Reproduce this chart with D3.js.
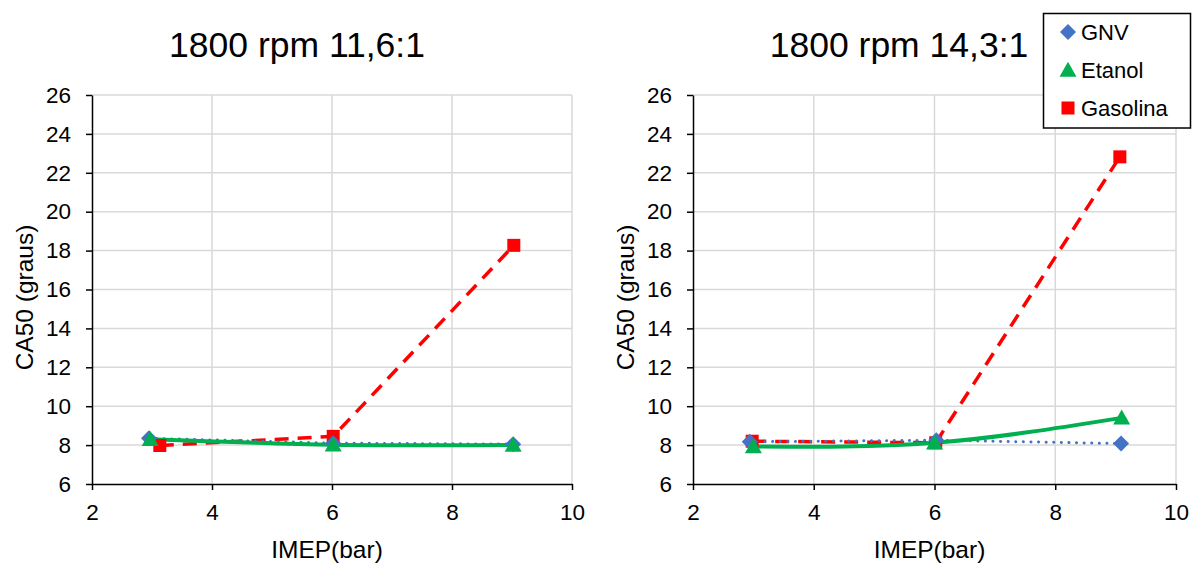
<!DOCTYPE html>
<html>
<head>
<meta charset="utf-8">
<script src="https://cdn.jsdelivr.net/npm/d3@7"></script>
<style>
  html, body { margin: 0; padding: 0; background: #fff; }
  svg { display: block; font-family: "Liberation Sans", Arial, sans-serif; }
</style>
</head>
<body>
<svg id="chart" width="1192" height="563"></svg>
<script>
// CA50 vs IMEP at 1800 rpm, two compression ratios
const panelTitles = ["1800 rpm 11,6:1", "1800 rpm 14,3:1"];
const seriesNames = ["GNV", "Etanol", "Gasolina"];
const xTicks = [2, 4, 6, 8, 10];
const yTicks = [6, 8, 10, 12, 14, 16, 18, 20, 22, 24, 26];

// Compression ratio 11,6:1
const imepGNV116 = [2.95, 6.02, 9.02];
const ca50GNV116 = [8.35, 8.1, 8.05];
const imepEtanol116 = [2.97, 6.02, 9.02];
const ca50Etanol116 = [8.3, 8.02, 8.0];
const imepGasolina116 = [3.13, 6.02, 9.03];
const ca50Gasolina116 = [7.98, 8.45, 18.27];

// Compression ratio 14,3:1
const imepGNV143 = [2.94, 6.03, 9.09];
const ca50GNV143 = [8.17, 8.25, 8.08];
const imepEtanol143 = [3.0, 6.0, 9.1];
const ca50Etanol143 = [7.93, 8.12, 9.4];
const imepGasolina143 = [2.98, 6.02, 9.07];
const ca50Gasolina143 = [8.2, 8.12, 22.82];

const colors = { GNV: "#4472C4", Etanol: "#00B050", Gasolina: "#FF0000" };

const panels = [
  {
    title: panelTitles[0], x0: 92, x1: 572, titleX: 297, yLabelX: 25,
    series: {
      GNV: d3.zip(imepGNV116, ca50GNV116),
      Etanol: d3.zip(imepEtanol116, ca50Etanol116),
      Gasolina: d3.zip(imepGasolina116, ca50Gasolina116)
    }
  },
  {
    title: panelTitles[1], x0: 693, x1: 1176, titleX: 899, yLabelX: 626,
    series: {
      GNV: d3.zip(imepGNV143, ca50GNV143),
      Etanol: d3.zip(imepEtanol143, ca50Etanol143),
      Gasolina: d3.zip(imepGasolina143, ca50Gasolina143)
    }
  }
];

const svg = d3.select("#chart");
const yTop = 95, yBottom = 484;

function marker(g, name, cx, cy) {
  const c = colors[name];
  if (name === "GNV") {
    const r = 8;
    g.append("path")
      .attr("d", `M${cx},${cy - r}L${cx + r},${cy}L${cx},${cy + r}L${cx - r},${cy}Z`)
      .attr("fill", c);
  } else if (name === "Etanol") {
    const w = 8.5, h = 15;
    g.append("path")
      .attr("d", `M${cx},${cy - h * 0.55}L${cx + w},${cy + h * 0.45}L${cx - w},${cy + h * 0.45}Z`)
      .attr("fill", c);
  } else {
    const s = 13;
    g.append("rect")
      .attr("x", cx - s / 2).attr("y", cy - s / 2)
      .attr("width", s).attr("height", s)
      .attr("fill", c);
  }
}

panels.forEach(p => {
  const x = d3.scaleLinear().domain([2, 10]).range([p.x0, p.x1]);
  const y = d3.scaleLinear().domain([6, 26]).range([yBottom, yTop]);
  const g = svg.append("g");

  // gridlines
  g.append("g").selectAll("line.h").data(yTicks.filter(v => v > 6)).join("line")
    .attr("x1", p.x0).attr("x2", p.x1)
    .attr("y1", d => y(d)).attr("y2", d => y(d))
    .attr("stroke", "#d9d9d9").attr("stroke-width", 1.5);
  g.append("g").selectAll("line.v").data(xTicks.filter(v => v > 2)).join("line")
    .attr("x1", d => x(d)).attr("x2", d => x(d))
    .attr("y1", yTop).attr("y2", yBottom)
    .attr("stroke", "#d9d9d9").attr("stroke-width", 1.5);

  // axes
  const xAxis = d3.axisBottom(x).tickValues(xTicks).tickSize(6).tickPadding(14).tickSizeOuter(0);
  const yAxis = d3.axisLeft(y).tickValues(yTicks).tickSize(6).tickPadding(15).tickSizeOuter(0);
  const gx = g.append("g").attr("transform", `translate(0,${yBottom})`).call(xAxis);
  const gy = g.append("g").attr("transform", `translate(${p.x0},0)`).call(yAxis);
  [gx, gy].forEach(a => {
    a.select(".domain").attr("stroke", "#000").attr("stroke-width", 1.5);
    a.selectAll(".tick line").attr("stroke", "#000").attr("stroke-width", 1.5);
    a.selectAll(".tick text").attr("fill", "#000").attr("font-size", 22.5)
      .attr("font-family", "'Liberation Sans', Arial, sans-serif");
  });

  // series lines
  const lineLinear = d3.line().x(d => x(d[0])).y(d => y(d[1]));
  const lineSmooth = d3.line().x(d => x(d[0])).y(d => y(d[1])).curve(d3.curveNatural);

  g.append("path").datum(p.series.Gasolina).attr("d", lineLinear)
    .attr("fill", "none").attr("stroke", colors.Gasolina).attr("stroke-width", 3.5)
    .attr("stroke-dasharray", "14,9");
  g.append("path").datum(p.series.GNV).attr("d", lineLinear)
    .attr("fill", "none").attr("stroke", colors.GNV).attr("stroke-width", 3)
    .attr("stroke-linecap", "round").attr("stroke-dasharray", "0.1,7.5");
  g.append("path").datum(p.series.Etanol).attr("d", lineSmooth)
    .attr("fill", "none").attr("stroke", colors.Etanol).attr("stroke-width", 4);

  // markers
  ["Gasolina", "GNV", "Etanol"].forEach(name => {
    p.series[name].forEach(d => marker(g, name, x(d[0]), y(d[1])));
  });

  // titles
  g.append("text").attr("x", p.titleX).attr("y", 57).attr("text-anchor", "middle")
    .attr("font-size", 35.5).attr("fill", "#000").text(p.title);
  g.append("text").attr("x", (p.x0 + p.x1) / 2 - 5).attr("y", 558).attr("text-anchor", "middle")
    .attr("font-size", 24.5).attr("fill", "#000").text("IMEP(bar)");
  g.append("text")
    .attr("transform", `translate(${p.yLabelX + 8},${(yTop + yBottom) / 2 + 8}) rotate(-90)`)
    .attr("text-anchor", "middle").attr("font-size", 24.5).attr("fill", "#000")
    .text("CA50 (graus)");
});

// legend
const lg = svg.append("g");
lg.append("rect").attr("x", 1043.5).attr("y", 13.5).attr("width", 147).attr("height", 114.5)
  .attr("fill", "#fff").attr("stroke", "#000").attr("stroke-width", 1.5);
seriesNames.forEach((name, i) => {
  const cy = 32 + i * 38;
  marker(lg, name, 1068, cy);
  lg.append("text").attr("x", 1081).attr("y", cy + 8).attr("font-size", 22)
    .attr("fill", "#000").text(name);
});
</script>
</body>
</html>
